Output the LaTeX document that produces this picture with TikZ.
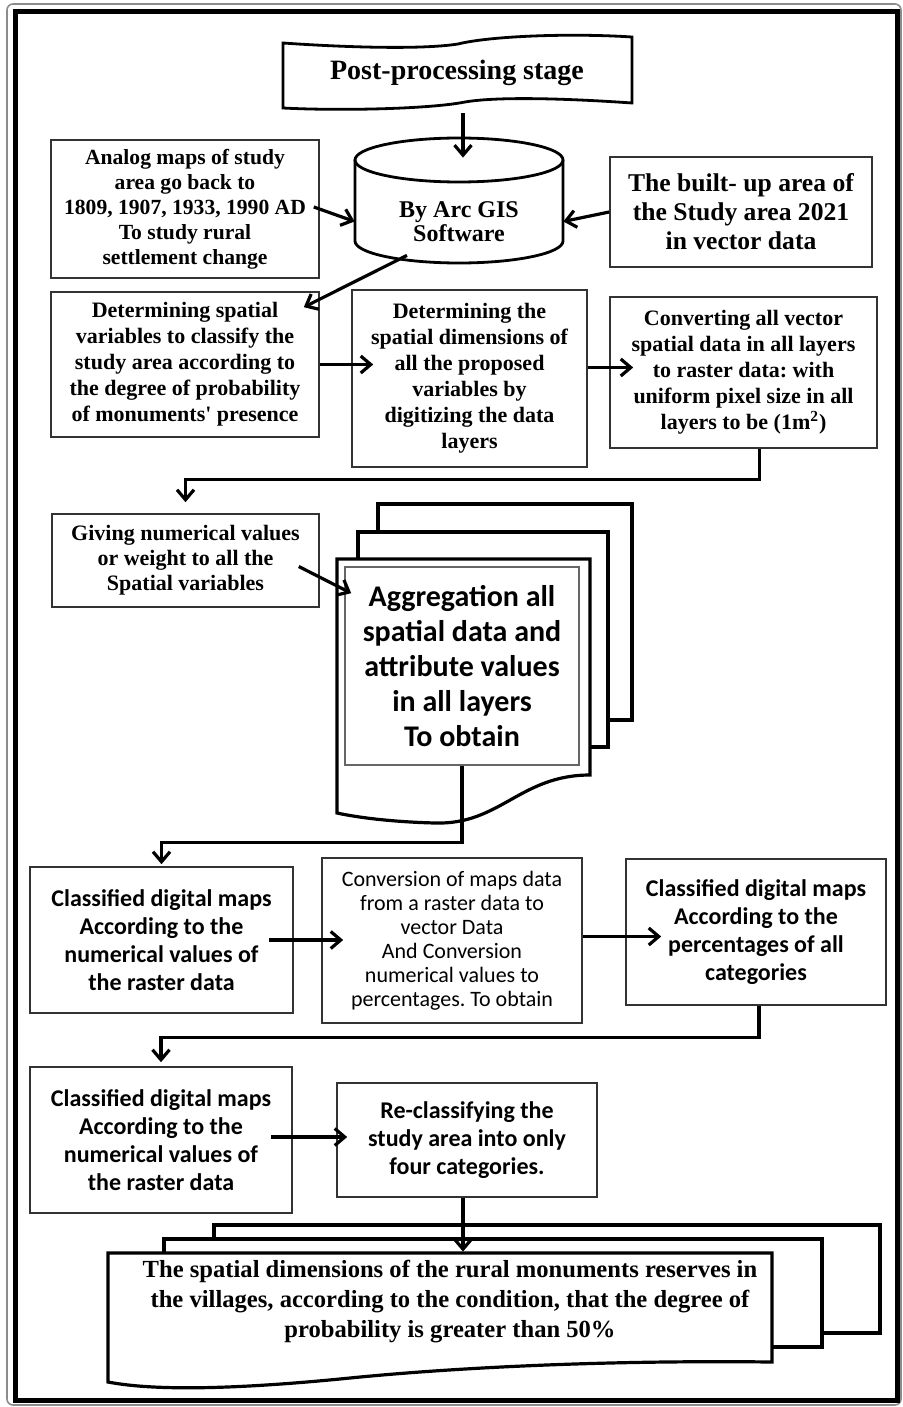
\documentclass[tikz,border=0pt]{standalone}
\usepackage{fontspec}
\setmainfont{Liberation Serif}
\newfontfamily\calibri{Carlito}
\usetikzlibrary{arrows.meta}
\newcommand{\tnr}[2]{\bfseries\fontsize{#1}{#2}\selectfont}
\newcommand{\clb}[2]{\calibri\fontsize{#1}{#2}\selectfont}
\newcommand{\squote}{{\addfontfeature{Ligatures=TeXOff}'}}
\frenchspacing
\tikzset{
  box/.style={draw=black!80, line width=0.8pt, align=center, inner sep=0pt},
  flow/.style={line width=1.6pt, -{Straight Barb[length=5pt,width=8.5pt]}},
  page/.style={line width=1.6pt, line join=miter},
  shape line/.style={line width=1.4pt}
}

\begin{document}
\begin{tikzpicture}[x=0.5pt, y=-0.5pt]
  \useasboundingbox (0,0) rectangle (902,1407);
  \draw[black!45, line width=0.8pt, rounded corners=3pt] (7,4) rectangle (901,1405);
  \draw[line width=2.5pt] (15,12) rectangle (897,1400);

  \draw[shape line, fill=white] (283,43) .. controls (340,47) and (420,50) .. (458,44)
    .. controls (490,36) and (570,33) .. (632,37) -- (632,103)
    .. controls (575,99) and (500,96) .. (465,102)
    .. controls (430,109) and (340,111) .. (283,108) -- cycle;
  \node[font=\tnr{14}{16}, minimum width=174pt, minimum height=32pt, inner sep=0pt] (stage) at (457,73) {Post-processing stage};

  \draw[shape line, fill=white] (355,160) -- (355,241) arc[start angle=180, end angle=0, x radius=104, y radius=22] -- (563,160);
  \draw[shape line] (459,160) ellipse [x radius=104, y radius=22];
  \node[font=\tnr{12}{11}, align=center, inner sep=0pt, minimum width=104pt, minimum height=41.5pt] (gis) at (459,221.5) {By Arc GIS\\Software};

  \node[box, font=\tnr{10.8}{12.5}, minimum width=134pt, minimum height=69pt] (analog) at (185,209)
    {Analog maps of study\\area go back to\\1809, 1907, 1933, 1990 AD\\To study rural\\settlement change};
  \node[box, font=\tnr{12.8}{14.5}, minimum width=131pt, minimum height=55pt] (builtup) at (741,212)
    {The built- up area of\\the Study area 2021\\in vector data};
  \node[box, font=\tnr{11}{13}, minimum width=134pt, minimum height=72.5pt] (detvar) at (185,364.5)
    {Determining spatial\\variables to classify the\\study area according to\\the degree of probability\\of monuments\squote{} presence};
  \node[box, font=\tnr{11}{13}, minimum width=117.5pt, minimum height=88.5pt] (detdim) at (469.5,378.5)
    {Determining the\\spatial dimensions of\\all the proposed\\variables by\\digitizing the data\\layers};
  \node[box, font=\tnr{11}{13}, minimum width=133.5pt, minimum height=75.5pt] (convert) at (743.5,372.5)
    {Converting all vector\\spatial data in all layers\\to raster data: with\\uniform pixel size in all\\layers to be (1m\textsuperscript{2})};
  \node[box, font=\tnr{11}{12.5}, minimum width=133.5pt, minimum height=46.5pt] (giving) at (185.5,560.5)
    {Giving numerical values\\or weight to all the\\Spatial variables};

  \draw[page] (378,532) -- (378,504) -- (632,504) -- (632,720) -- (608,720);
  \draw[page] (358,559) -- (358,532) -- (608,532) -- (608,747) -- (590,747);
  \draw[page, fill=white] (337,559) -- (590,559) -- (590,775) .. controls (520,775) and (500,825) .. (435,823)
    .. controls (395,822) and (360,818) .. (337,813) -- cycle;
  \node[box, draw=black!60, font=\clb{15}{17.5}\bfseries, minimum width=117pt, minimum height=99pt] (aggreg) at (462,666)
    {Aggregation all\\spatial data and\\attribute values\\in all layers\\To obtain};

  \node[box, font=\clb{12}{14}\bfseries, minimum width=131.5pt, minimum height=73pt] (clsA) at (161.5,940)
    {Classified digital maps\\According to the\\numerical values of\\the raster data};
  \node[box, font=\clb{11}{12}, minimum width=130pt, minimum height=82.5pt] (conv) at (452,940.5)
    {Conversion of maps data\\from a raster data to\\vector Data\\And Conversion\\numerical values to\\percentages. To obtain};
  \node[box, font=\clb{12}{14}\bfseries, minimum width=130pt, minimum height=73pt] (clsC) at (756,932)
    {Classified digital maps\\According to the\\percentages of all\\categories};
  \node[box, font=\clb{12}{14}\bfseries, minimum width=131pt, minimum height=73pt] (clsD) at (161,1140)
    {Classified digital maps\\According to the\\numerical values of\\the raster data};
  \node[box, font=\clb{12}{14}\bfseries, minimum width=130pt, minimum height=57pt] (reclass) at (467,1140)
    {Re-classifying the\\study area into only\\four categories.};

  \draw[page] (214,1239) -- (214,1225) -- (880,1225) -- (880,1333) -- (822,1333);
  \draw[page] (164,1253) -- (164,1239) -- (822,1239) -- (822,1347) -- (772,1347);
  \draw[page, fill=white] (108,1253) -- (772,1253) -- (772,1362) .. controls (600,1360) and (450,1368) .. (350,1378)
    .. controls (250,1388) and (160,1392) .. (108,1382) -- cycle;
  \node[font=\tnr{12.3}{15}, align=center, inner sep=0pt, minimum width=320pt, minimum height=50pt] (result) at (450,1302)
    {The spatial dimensions of the rural monuments reserves in\\the villages, according to the condition, that the degree of\\probability is greater than 50\%};

  \draw[flow] ([xshift=3pt,yshift=-4pt]stage.south) -- ([xshift=2pt,yshift=11pt]gis.north);
  \draw[flow] ([xshift=-3pt,yshift=1pt]analog.east) -- (gis.west);
  \draw[flow] (builtup.west) -- (gis.east);
  \draw[flow] ([xshift=-26pt,yshift=4pt]gis.south) -- ([xshift=-8pt,yshift=-8pt]detvar.north east);
  \draw[flow, shorten >=-11pt] (detvar.east) -- (detvar.east -| detdim.west);
  \draw[flow, shorten >=-12pt] ([yshift=5.5pt]detdim.east) -- ([yshift=5.5pt]detdim.east -| convert.west);
  \draw[flow] ([xshift=8pt]convert.south) -- ++(0,31) -| ([yshift=5.5pt]giving.north);
  \draw[flow] ([xshift=-10.5pt,yshift=-3pt]giving.east) -- ([xshift=3.5pt,yshift=-13.5pt]aggreg.north west);
  \draw[flow, shorten >=1pt] (aggreg.south) -- ++(0,77) -| (clsA.north);
  \draw[flow, shorten >=-11pt] ([xshift=-12.5pt]clsA.east) -- (clsA.east -| conv.west);
  \draw[flow, shorten >=-18pt] ([yshift=2pt]conv.east) -- ([yshift=2pt]conv.east -| clsC.west);
  \draw[flow] ([xshift=1.5pt]clsC.south) -- ++(0,32) -| ([yshift=2pt]clsD.north);
  \draw[flow, shorten >=-5.5pt] ([xshift=-11pt,yshift=1.5pt]clsD.east) -- ([yshift=1.5pt]clsD.east -| reclass.west);
  \draw[flow] ([xshift=-2pt]reclass.south) -- ([xshift=-2pt]reclass.south |- result.north);
\end{tikzpicture}
\end{document}
